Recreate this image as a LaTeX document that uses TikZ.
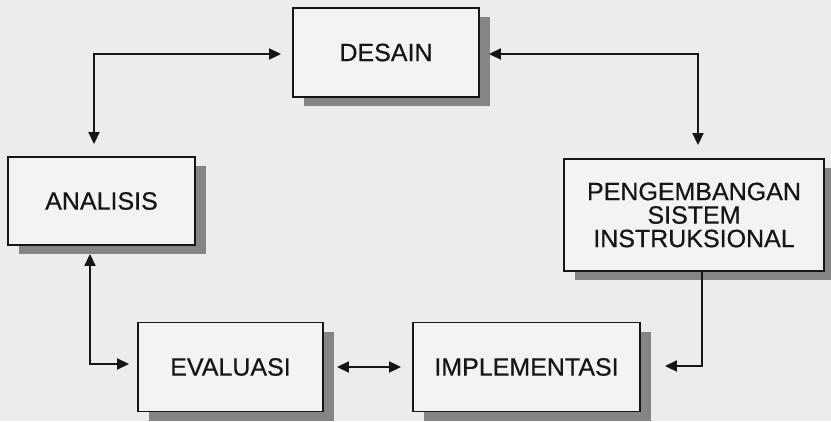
\documentclass[tikz,border=0pt]{standalone}
\usepackage{fontspec}
\setmainfont{Liberation Sans}
\newfontfamily\boxfont{Liberation Sans}[FakeBold=0.6]
\usetikzlibrary{arrows.meta}
\definecolor{pagebg}{HTML}{ECECEC}
\definecolor{boxbg}{HTML}{F3F3F3}
\definecolor{shadowc}{HTML}{858585}
\definecolor{inkc}{HTML}{161616}
\tikzset{
  stagebox/.style={draw=inkc, line width=1.9pt, fill=boxbg, align=center,
    inner sep=0pt, font=\boxfont\fontsize{25}{23.5}\selectfont, text=inkc,
    preaction={fill=shadowc, transform canvas={xshift=11pt, yshift=-9pt}}},
  link/.style={draw=inkc, line width=1.9pt},
  dbl/.style={link, {Triangle[length=12pt,width=11pt]}-{Triangle[length=12pt,width=11pt]}},
  sgl/.style={link, -{Triangle[length=12pt,width=11pt]}}
}
\begin{document}
\begin{tikzpicture}[x=1pt,y=-1pt]
\fill[pagebg] (0,0) rectangle (831,421);
\useasboundingbox (0,0) rectangle (831,421);

\node[stagebox, minimum width=186pt, minimum height=89pt] (des) at (386,52.5) {DESAIN};
\node[stagebox, minimum width=187pt, minimum height=88pt] (ana) at (101.5,201) {ANALISIS};
\node[stagebox, minimum width=260pt, minimum height=112pt] (pen) at (694,215) {PENGEMBANGAN\\SISTEM\\INSTRUKSIONAL};
\node[stagebox, minimum width=185pt, minimum height=89pt] (eva) at (230.5,367) {EVALUASI};
\node[stagebox, minimum width=227pt, minimum height=89pt] (imp) at (526.5,367) {IMPLEMENTASI};

\coordinate (k1) at (94,54);
\coordinate (k2) at (698,54);
\coordinate (k3) at (702,366);
\coordinate (k4) at (90,364);

\draw[dbl, shorten <=11pt, shorten >=12pt] (des.west |- k1) -- (k1) -- (k1 |- ana.north);
\draw[dbl, shorten <=9pt, shorten >=13pt] (des.east |- k2) -- (k2) -- (k2 |- pen.north);
\draw[sgl, shorten >=24pt] (k3 |- pen.south) -- (k3) -- (imp.east |- k3);
\draw[dbl, shorten <=8pt, shorten >=8pt] (k4 |- ana.south) -- (k4) -- (eva.west |- k4);
\draw[dbl, shorten <=13pt, shorten >=11pt] (eva.east) -- (imp.west);
\end{tikzpicture}
\end{document}
